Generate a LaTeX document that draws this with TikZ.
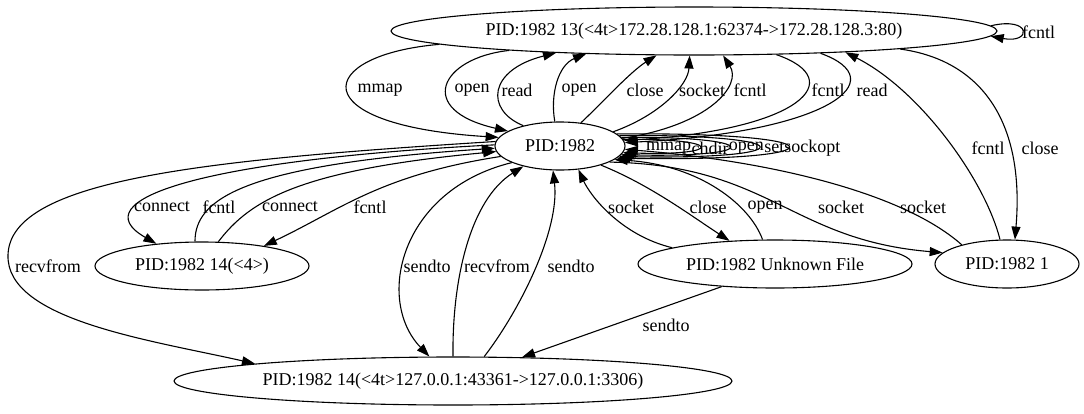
\documentclass[tikz,border=0pt]{standalone}
\usepackage{fontspec}
\setmainfont{Liberation Serif}
\usetikzlibrary{arrows.meta,shapes.geometric}
\begin{document}
\begin{tikzpicture}[x=1pt,y=-1pt,
  every node/.style={font=\fontsize{18}{20}\selectfont},
  st/.style={draw, ellipse, line width=1.1pt, inner sep=0pt, minimum height=48pt},
  lbl/.style={inner sep=0pt},
  arr/.style={-{Triangle[length=13pt,width=9pt]}, line width=1.1pt}]
\useasboundingbox (0,0) rectangle (1084,413);
% nodes
\node[st, minimum width=606pt] (T) at (694,31) {PID:1982 13(<4t>172.28.128.1:62374->172.28.128.3:80)};
\node[st, minimum width=130pt] (C) at (560,146) {PID:1982};
\node[st, minimum width=214pt] (A) at (202,266) {PID:1982 14(<4>)};
\node[st, minimum width=274pt] (U) at (775,264) {PID:1982 Unknown File};
\node[st, minimum width=144pt] (P) at (1007,264) {PID:1982 1};
\node[st, minimum width=558pt] (B) at (453,381) {PID:1982 14(<4t>127.0.0.1:43361->127.0.0.1:3306)};
% C <-> T
\draw[arr] (T.183) .. controls (315,55) and (300,125) .. (C.172);
\draw[arr] (T.186) .. controls (440,58) and (415,110) .. (C.164);
\draw[arr] (C.151) .. controls (485,110) and (488,70) .. (T.189);
\draw[arr] (C.102) .. controls (550,95) and (558,65) .. (T.192);
\draw[arr] (C.48) .. controls (600,105) and (630,72) .. (T.213);
\draw[arr] (C.15) .. controls (660,115) and (688,85) .. (T.260);
\draw[arr] (C.7) .. controls (710,125) and (742,85) .. (T.320);
\draw[arr] (T.344) .. controls (850,80) and (800,130) .. (C.5);
\draw[arr] (T.350) .. controls (895,80) and (830,132) .. (C.3);
% P <-> T
\draw[arr] (P.106) .. controls (985,180) and (920,90) .. (T.352);
\draw[arr] (T.355) .. controls (980,60) and (1025,120) .. (P.72);
\draw[arr] (T.1) .. controls (1032,16) and (1032,44) .. (T.359);
% C self loops
\draw[arr] (C.6) .. controls (725,138) and (725,156) .. (C.354);
\draw[arr] (C.8) .. controls (765,136) and (765,158) .. (C.352);
\draw[arr] (C.10) .. controls (805,134) and (805,160) .. (C.350);
\draw[arr] (C.12) .. controls (845,132) and (845,162) .. (C.348);
% C <-> P, U
\draw[arr] (C.342) .. controls (770,165) and (790,240) .. (P.170);
\draw[arr] (P.157) .. controls (900,190) and (760,160) .. (C.357);
\draw[arr] (U.171) .. controls (620,235) and (590,195) .. (C.308);
\draw[arr] (C.335) .. controls (650,185) and (690,215) .. (U.153);
\draw[arr] (U.117) .. controls (750,205) and (700,165) .. (C.346);
\draw[arr] (U.203) -- (B.19);
% C <-> A
\draw[arr] (C.179) .. controls (200,160) and (80,200) .. (A.154);
\draw[arr] (A.106) .. controls (195,200) and (240,165) .. (C.182);
\draw[arr] (A.56) .. controls (250,200) and (300,170) .. (C.185);
\draw[arr] (C.190) .. controls (380,175) and (340,210) .. (A.18);
% C <-> B
\draw[arr] (C.176) .. controls (200,160) and (10,180) .. (8,255) .. controls (6,320) and (150,340) .. (B.175);
\draw[arr] (C.199) .. controls (400,190) and (375,300) .. (B.134);
\draw[arr] (B.90) .. controls (452,280) and (470,200) .. (C.209);
\draw[arr] (B.38) .. controls (520,310) and (560,230) .. (C.254);
% labels
\node[lbl] (l1) at (380,90) {mmap};
\node[lbl] (l2) at (472,90) {open};
\node[lbl] (l3) at (517,90) {read};
\node[lbl] (l4) at (579,90) {open};
\node[lbl] (l5) at (645,90) {close};
\node[lbl] (l6) at (702,90) {socket};
\node[lbl] (l7) at (750,90) {fcntl};
\node[lbl] (l8) at (828,90) {fcntl};
\node[lbl] (l9) at (872,90) {read};
\node[lbl, anchor=west] (l10) at (1022,32) {fcntl};
\node[lbl] (l11) at (988,148) {fcntl};
\node[lbl] (l12) at (1040,148) {close};
\node[lbl, anchor=west] (l13) at (646,148) {mmap};
\node[lbl, anchor=west] (l14) at (l13.east) {chdir};
\node[lbl, anchor=west] (l15) at (l14.east) {open};
\node[lbl, anchor=west] (l16) at (l15.east) {setsockopt};
\node[lbl] (l17) at (162,207) {connect};
\node[lbl] (l18) at (219,207) {fcntl};
\node[lbl] (l19) at (290,207) {connect};
\node[lbl] (l20) at (370,207) {fcntl};
\node[lbl] (l21) at (631,207) {socket};
\node[lbl] (l22) at (708,207) {close};
\node[lbl] (l23) at (765,207) {open};
\node[lbl] (l24) at (841,207) {socket};
\node[lbl] (l25) at (923,207) {socket};
\node[lbl] (l26) at (48,266) {recvfrom};
\node[lbl] (l27) at (427,266) {sendto};
\node[lbl] (l28) at (497,266) {recvfrom};
\node[lbl] (l29) at (571,266) {sendto};
\node[lbl] (l30) at (666,325) {sendto};
\end{tikzpicture}
\end{document}
